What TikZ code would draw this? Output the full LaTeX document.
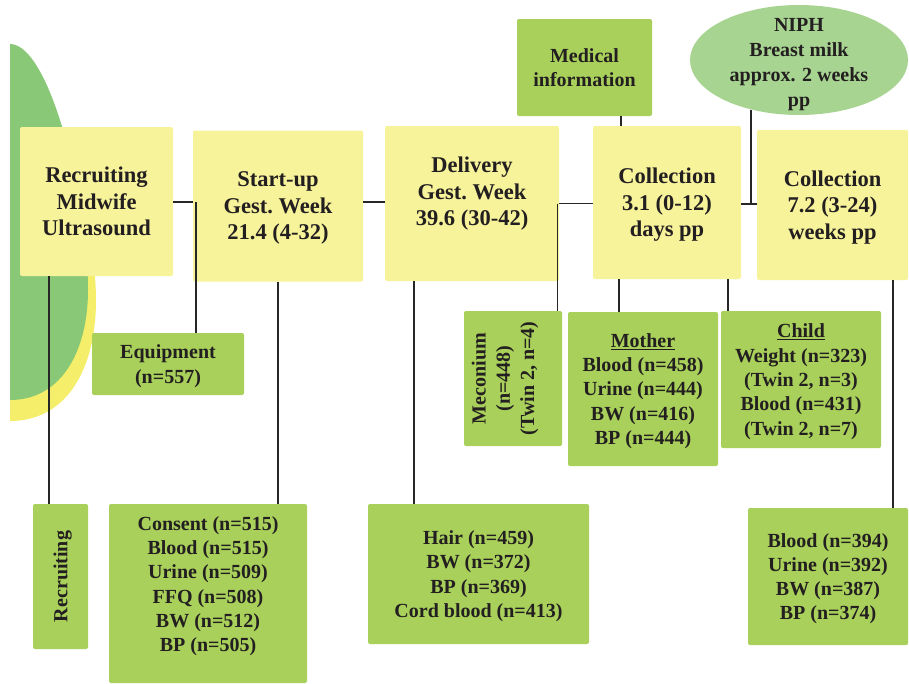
\documentclass[tikz,border=0pt]{standalone}
\usepackage{fontspec}
\setmainfont{Liberation Serif}
\usetikzlibrary{shapes.geometric}
\definecolor{boxyellow}{HTML}{F7F39B}
\definecolor{boxgreen}{HTML}{A8D05A}
\definecolor{ovalgreen}{HTML}{A8D491}
\definecolor{bggreen}{HTML}{88C877}
\definecolor{bgyellow}{HTML}{F4EE6B}
\definecolor{ink}{HTML}{231F20}
\begin{document}
\begin{tikzpicture}[x=1pt,y=-1pt,
    titletext/.style={align=center,text=ink,inner sep=0pt,text depth=0pt,font=\fontsize{22.5}{26.5}\selectfont\bfseries},
    sampletext/.style={align=center,text=ink,inner sep=0pt,text depth=0pt,font=\fontsize{20}{24.3}\selectfont\bfseries},
    titlebox/.style={titletext,fill=boxyellow,rounded corners=2pt},
    samplebox/.style={sampletext,fill=boxgreen,rounded corners=2pt},
    link/.style={line width=1.4pt,draw=black!85}]
    \useasboundingbox (0,0) rectangle (909,683);
    % background ovals on the left
    \fill[bgyellow] (10,90) .. controls (62,90) and (96,230) .. (96,300) .. controls (96,370) and (66,421) .. (10,421) -- cycle;
    \fill[bggreen] (10,44) .. controls (50,44) and (88,200) .. (88,290) .. controls (88,350) and (62,400) .. (10,400) -- cycle;
    % main time line
    \node[titlebox,minimum width=153,minimum height=149] (recruit) at (96.5,201.5) {Recruiting\\Midwife\\Ultrasound};
    \node[titlebox,minimum width=170,minimum height=151] (startup) at (278,206) {Start-up\\Gest.\ Week\\21.4 (4-32)};
    \node[titlebox,minimum width=174,minimum height=155] (delivery) at (472,203.5) {};
    \node[titletext] (deliveryT) at ([yshift=12pt]delivery.center) {Delivery\\Gest.\ Week\\39.6 (30-42)};
    \node[titlebox,minimum width=148,minimum height=153] (coll1) at (667,202.5) {Collection\\3.1 (0-12)\\days pp};
    \node[titlebox,minimum width=151,minimum height=150] (coll2) at (832.5,205) {Collection\\7.2 (3-24)\\weeks pp};
    % upper sources
    \node[samplebox,minimum width=135,minimum height=97] (medical) at (584.5,67.5) {Medical\\information};
    \node[ellipse,fill=ovalgreen,inner sep=0pt,minimum width=218,minimum height=110] (niph) at (799,60) {};
    \node[sampletext,font=\fontsize{20}{25}\selectfont\bfseries] (niphT) at ([yshift=-2pt]niph.center) {NIPH\\Breast milk\\approx. 2 weeks\\pp};
    % samples
    \node[samplebox,minimum width=152,minimum height=62] (equip) at (168,364) {Equipment\\(n=557)};
    \node[samplebox,minimum width=55,minimum height=145] (recsmall) at (60.5,576.5) {};
    \node[sampletext,rotate=90] (recsmallT) at (recsmall.center) {Recruiting};
    \node[samplebox,minimum width=198,minimum height=179] (startS) at (208,593.5) {};
    \node[sampletext] (startST) at ([yshift=9.5pt]startS.center) {Consent (n=515)\\Blood (n=515)\\Urine (n=509)\\FFQ (n=508)\\BW (n=512)\\BP (n=505)};
    \node[samplebox,minimum width=221,minimum height=140] (deliveryS) at (478.5,574) {Hair (n=459)\\BW (n=372)\\BP (n=369)\\Cord blood (n=413)};
    \node[samplebox,minimum width=98,minimum height=135] (meconium) at (513,378.5) {};
    \node[sampletext,rotate=90] (meconiumT) at ([xshift=-10pt]meconium.center) {Meconium\\(n=448)\\(Twin 2, n=4)};
    \node[samplebox,minimum width=150,minimum height=154] (mother) at (643,389) {\underline{Mother}\\Blood (n=458)\\Urine (n=444)\\BW (n=416)\\BP (n=444)};
    \node[samplebox,minimum width=160,minimum height=137] (child) at (801,379.5) {\underline{Child}\\Weight (n=323)\\(Twin 2, n=3)\\Blood (n=431)\\(Twin 2, n=7)};
    \node[samplebox,minimum width=160,minimum height=137] (coll2S) at (828,576.5) {Blood (n=394)\\Urine (n=392)\\BW (n=387)\\BP (n=374)};
    % connectors along the time line
    \coordinate (eqtap) at ([yshift=-0.5pt]recruit.east);
    \draw[link] (eqtap) -- (eqtap -| startup.west);
    \draw[link] ([yshift=4pt]startup.east) -- ([yshift=4pt]startup.east -| delivery.west);
    \draw[link] (delivery.east) -- (delivery.east -| coll1.west);
    \draw[link] ([yshift=-1.5pt]coll1.east) -- ([yshift=-1.5pt]coll1.east -| coll2.west);
    % connectors to the boxes
    \draw[link] ([xshift=28pt]equip.north) -- ([xshift=28pt]equip.north |- eqtap);
    \draw[link] ([xshift=-11.5pt]recsmall.north) -- ([xshift=-11.5pt]recsmall.north |- recruit.south);
    \draw[link] (startup.south) -- (startup.south |- startS.north);
    \draw[link] ([xshift=-58pt]delivery.south) -- ([xshift=-58pt]delivery.south |- deliveryS.north);
    \draw[link] ([xshift=-2pt]delivery.east) -- ([xshift=-2pt]delivery.east |- meconium.north);
    \draw[link] ([xshift=36.5pt]medical.south) -- ([xshift=36.5pt]medical.south |- coll1.north);
    \draw[link] ([xshift=-48pt]coll1.south) -- ([xshift=-48pt]coll1.south |- mother.north);
    \draw[link] ([xshift=61pt]coll1.south) -- ([xshift=61pt]coll1.south |- child.north);
    \draw[link] (niph.226.5) -- (niph.226.5 |- coll2.west);
    \draw[link] ([xshift=60.5pt]coll2.south) -- ([xshift=60.5pt]coll2.south |- coll2S.north);
\end{tikzpicture}
\end{document}
